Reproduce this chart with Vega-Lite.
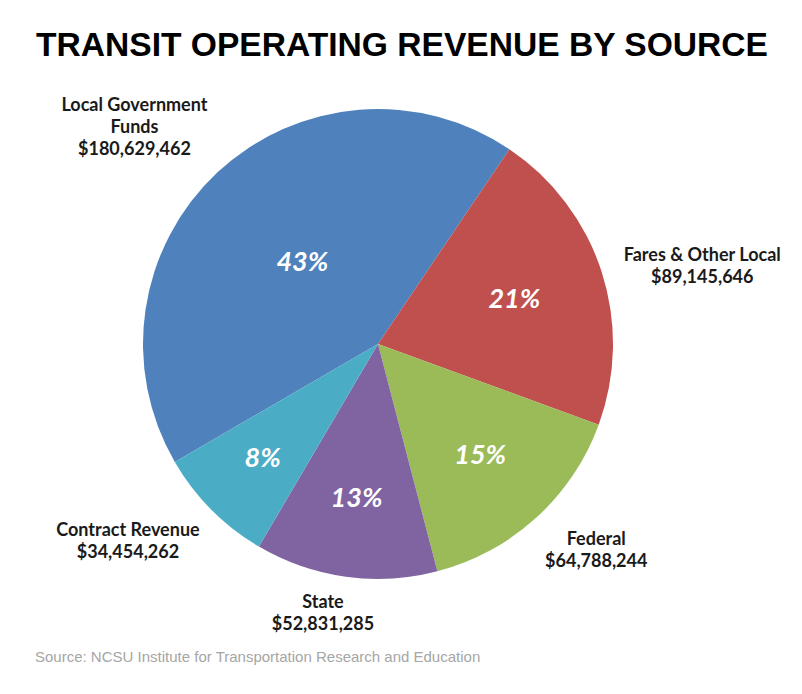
{
  "$schema": "https://vega.github.io/schema/vega-lite/v6.json",
  "background": "white",
  "padding": {"left": 0, "top": 29, "right": 0, "bottom": 0},
  "title": {
    "text": "TRANSIT OPERATING REVENUE BY SOURCE",
    "font": "Liberation Sans",
    "fontSize": 33.6,
    "fontWeight": "bold",
    "color": "#000000",
    "anchor": "middle",
    "frame": "group",
    "dx": 24,
    "offset": 10
  },
  "config": {"view": {"stroke": null}},
  "vconcat": [
    {
      "width": 756,
      "height": 542,
      "title": {
        "text": "Source: NCSU Institute for Transportation Research and Education",
        "orient": "bottom",
        "anchor": "start",
        "frame": "group",
        "font": "Liberation Sans",
        "fontSize": 15,
        "fontWeight": "normal",
        "color": "#a6a6a6",
        "dx": 35,
        "offset": 16
      },
      "data": {
        "values": [
          {"source": "Local Government Funds", "value": 180629462, "share": 0.428, "label": "Local Government\nFunds\n$180,629,462"},
          {"source": "Fares & Other Local", "value": 89145646, "share": 0.211, "label": "Fares & Other Local\n$89,145,646"},
          {"source": "Federal", "value": 64788244, "share": 0.154, "label": "Federal\n$64,788,244"},
          {"source": "State", "value": 52831285, "share": 0.125, "label": "State\n$52,831,285"},
          {"source": "Contract Revenue", "value": 34454262, "share": 0.082, "label": "Contract Revenue\n$34,454,262"}
        ]
      },
      "encoding": {
        "theta": {
          "field": "value",
          "type": "quantitative",
          "stack": true,
          "scale": {"range": [-2.097, 4.1862]}
        },
        "order": {"field": "value", "type": "quantitative", "sort": "descending"},
        "color": {
          "field": "source",
          "type": "nominal",
          "legend": null,
          "scale": {
            "domain": ["Local Government Funds", "Fares & Other Local", "Federal", "State", "Contract Revenue"],
            "range": ["#4F81BD", "#C0504D", "#9BBB59", "#8064A2", "#4BACC6"]
          }
        }
      },
      "layer": [
        {"mark": {"type": "arc", "outerRadius": 235, "stroke": null}},
        {
          "mark": {
            "type": "text",
            "radius": {"expr": "175 - 150*datum.share"},
            "font": "Lato",
            "fontSize": 27,
            "fontWeight": "bold",
            "fontStyle": "italic",
            "fill": "white"
          },
          "encoding": {
            "text": {"field": "share", "type": "quantitative", "format": ".0%"},
            "color": {"value": "white"}
          }
        },
        {
          "mark": {
            "type": "text",
            "radius": 250,
            "font": "Lato",
            "fontSize": 18,
            "fontWeight": "bold",
            "lineBreak": "\n",
            "lineHeight": 22,
            "align": "center",
            "baseline": "middle",
            "dx": {"expr": "clamp(3*sin(scale('concat_0_theta', 0.5*datum.value_start + 0.5*datum.value_end)), -1, 1) * 4.55 * max(length(split(datum.label + '\\n\\n', '\\n')[0]), length(split(datum.label + '\\n\\n', '\\n')[1]), length(split(datum.label + '\\n\\n', '\\n')[2]))"},
            "dy": {"expr": "cos(scale('concat_0_theta', 0.5*datum.value_start + 0.5*datum.value_end)) > 0.5 ? -(2*length(split(datum.label, '\\n')) - 1)*11 : (cos(scale('concat_0_theta', 0.5*datum.value_start + 0.5*datum.value_end)) < -0.5 ? 11 : -(length(split(datum.label, '\\n')) - 1)*11)"}
          },
          "encoding": {
            "text": {"field": "label", "type": "nominal"},
            "color": {"value": "#1a1a1a"}
          }
        }
      ]
    }
  ]
}
